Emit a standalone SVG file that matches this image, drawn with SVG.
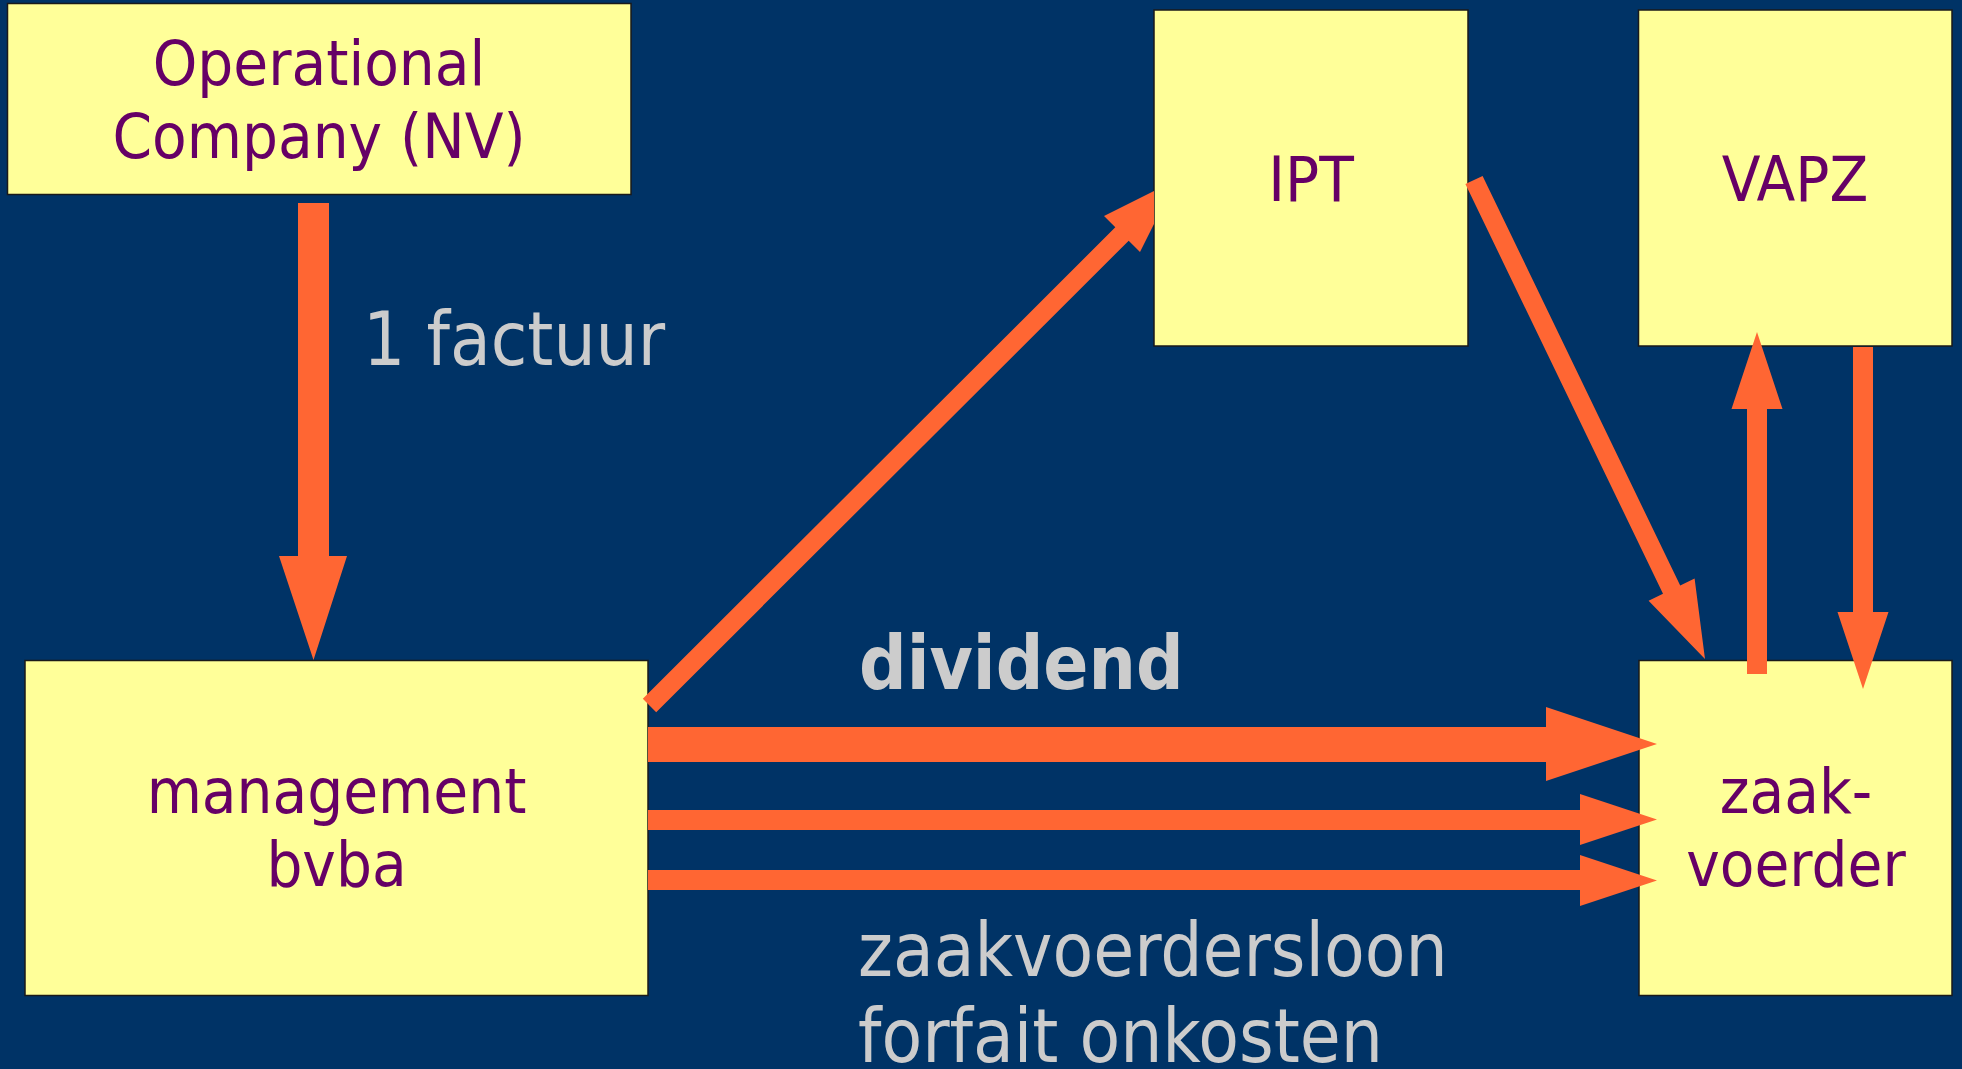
<svg xmlns="http://www.w3.org/2000/svg" width="1962" height="1069" viewBox="0 0 1962 1069">
<style>
.box{fill:#FFFF99;stroke:#1a1a1a;stroke-width:1.5}
.nt{font-family:"DejaVu Sans Condensed","DejaVu Sans",sans-serif;font-stretch:condensed;font-size:63px;fill:#660066;text-anchor:middle}
.lb{font-family:"DejaVu Sans Condensed","DejaVu Sans",sans-serif;font-stretch:condensed;font-size:74px;fill:#CCCCCC}
.lbb{font-weight:bold;font-size:74px}
.arr{fill:#FF6633}
</style>
<rect x="0" y="0" width="1962" height="1069" fill="#003366"/>
<g id="node-operational">
<rect class="box" x="7.5" y="3.5" width="623.5" height="191"/>
<text class="nt" x="319" y="85">Operational</text>
<text class="nt" x="319" y="158">Company (NV)</text>
</g>
<g id="node-ipt">
<rect class="box" x="1154" y="10" width="314" height="336"/>
<text class="nt" x="1311" y="201">IPT</text>
</g>
<g id="node-vapz">
<rect class="box" x="1638.5" y="10" width="313.5" height="336"/>
<text class="nt" x="1795" y="201">VAPZ</text>
</g>
<g id="node-management">
<rect class="box" x="25" y="660.5" width="623" height="335"/>
<text class="nt" x="336.5" y="813">management</text>
<text class="nt" x="336.5" y="886">bvba</text>
</g>
<g id="node-zaakvoerder">
<rect class="box" x="1639" y="660.5" width="313" height="335"/>
<text class="nt" x="1796" y="813">zaak-</text>
<text class="nt" x="1796" y="886">voerder</text>
</g>
<g id="connectors">
<polygon class="arr" points="298,203 329,203 329,556 347,556 313.5,660 279,556 298,556"/>
<polygon class="arr" points="642.8,698.8 1115.3,227.3 1104,216 1154,190.9 1154,224.1 1140,252 1128.7,240.7 656.2,712.2"/>
<polygon class="arr" points="1465.4,184.1 1663,593.7 1648.6,600.7 1705,659 1694.6,578.5 1680.2,585.5 1482.6,175.9"/>
<polygon class="arr" points="1747,674 1747,409 1731.5,409 1757,332 1782.5,409 1767,409 1767,674"/>
<polygon class="arr" points="1853,347 1873,347 1873,612 1888.5,612 1863,689 1837.5,612 1853,612"/>
<polygon class="arr" points="648,727 1546,727 1546,707 1657,744 1546,781 1546,762 648,762"/>
<polygon class="arr" points="648,810 1580,810 1580,794 1657,819.5 1580,845 1580,830 648,830"/>
<polygon class="arr" points="648,870 1580,870 1580,855 1657,880.5 1580,906 1580,890 648,890"/>
</g>
<text class="lb" x="363" y="365">1 factuur</text>
<text class="lb lbb" x="859" y="689">dividend</text>
<text class="lb" x="858" y="976">zaakvoerdersloon</text>
<text class="lb" x="858" y="1062">forfait onkosten</text>
</svg>
